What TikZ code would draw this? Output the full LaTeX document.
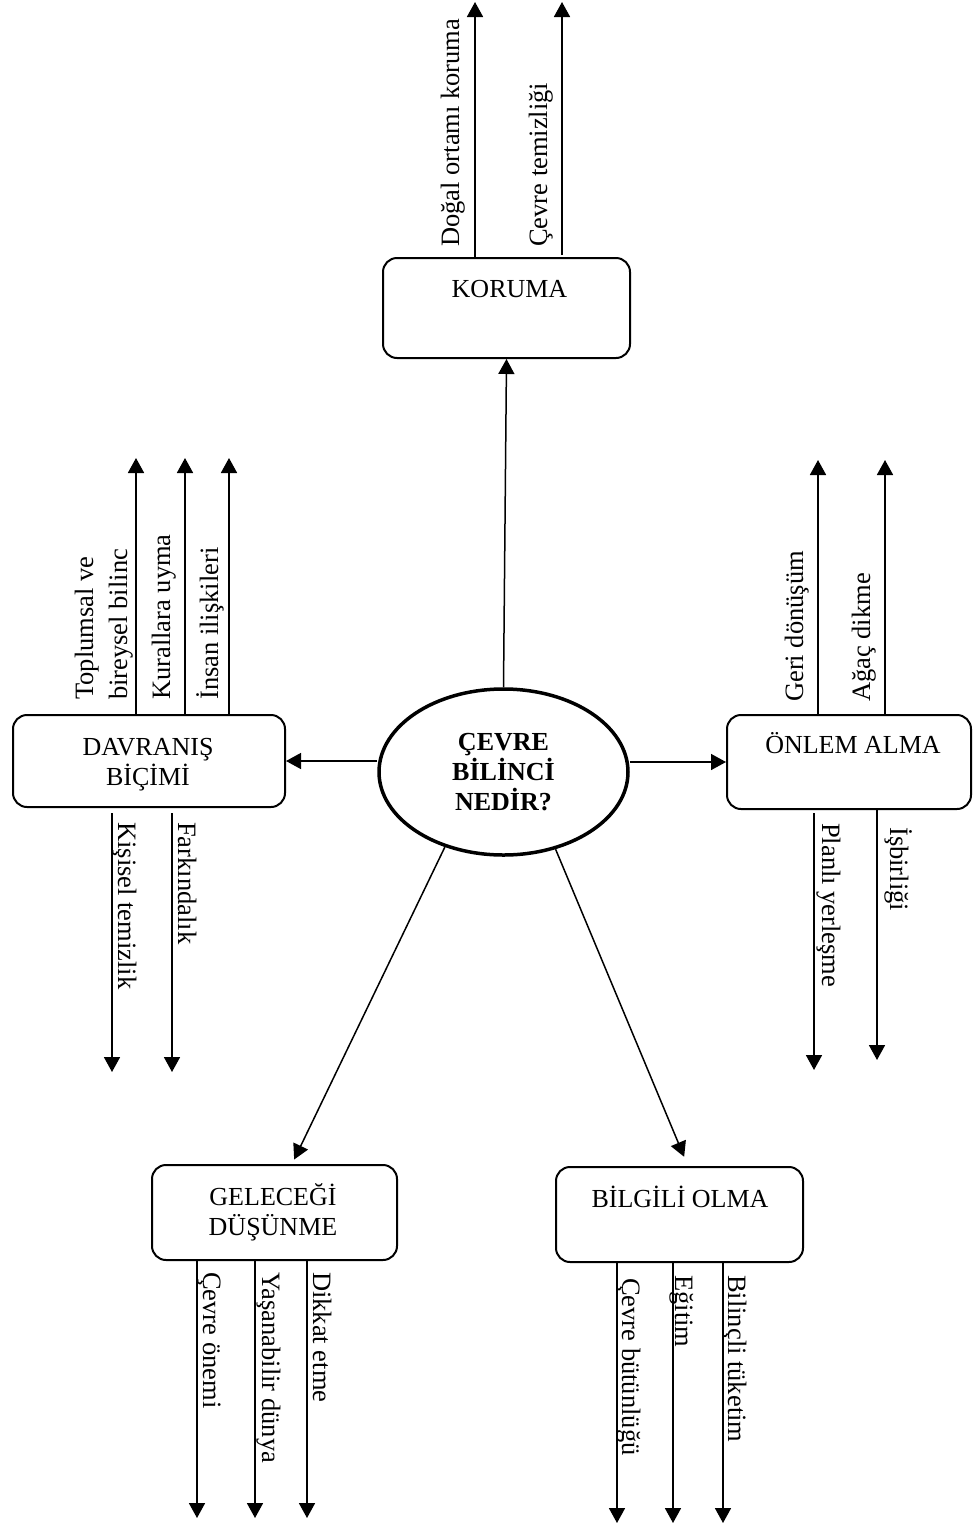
\documentclass[tikz,border=0pt]{standalone}
\usepackage{fontspec}
\setmainfont{Liberation Serif}
\usetikzlibrary{arrows.meta,shapes.geometric}

\begin{document}
\begin{tikzpicture}[x=1pt,y=-1pt,
  box/.style={draw, line width=2pt, rounded corners=14pt, inner sep=0pt},
  hub/.style={draw, ellipse, line width=3.5pt, inner sep=0pt,
    minimum width=249pt, minimum height=166pt, align=center,
    font=\fontsize{26}{30}\selectfont\bfseries},
  bt/.style={inner sep=0pt, anchor=base, font=\fontsize{26}{30}\selectfont},
  lab/.style={inner sep=0pt, font=\fontsize{26.5}{30}\selectfont},
  uplab/.style={lab, rotate=90, anchor=base west},
  dnlab/.style={lab, rotate=-90, anchor=base west},
  tip/.style={-{Triangle[width=16pt,length=15pt]}},
  leg/.style={tip, line width=1.8pt},
  link/.style={tip, line width=1.5pt}]

\useasboundingbox[fill=white] (0,0) rectangle (973,1526);

% central topic
\node[hub] (c) at (503.5,772) {ÇEVRE\\BİLİNCİ\\NEDİR?};

% category boxes
\node[box, minimum width=247pt, minimum height=100pt] (koruma) at (506.5,308) {};
\node[box, minimum width=272pt, minimum height=92pt]  (dav)    at (149,761)   {};
\node[box, minimum width=244pt, minimum height=94pt]  (onlem)  at (849,762)   {};
\node[box, minimum width=245pt, minimum height=95pt]  (gel)    at (274.5,1212.5) {};
\node[box, minimum width=247pt, minimum height=95pt]  (bil)    at (679.5,1214.5) {};

% box captions
\node[bt] (koruma-t) at (509.5,297) {KORUMA};
\node[bt] (dav-t1)   at (148,755)   {DAVRANIŞ};
\node[bt] (dav-t2)   at (148,785)   {BİÇİMİ};
\node[bt] (onlem-t)  at (853,753)   {ÖNLEM ALMA};
\node[bt] (gel-t1)   at (273,1205)  {GELECEĞİ};
\node[bt] (gel-t2)   at (273,1235)  {DÜŞÜNME};
\node[bt] (bil-t)    at (680,1207)  {BİLGİLİ OLMA};

% links from the centre
\draw[link] (c.north) -- (koruma.south);
\draw[link] (c.east |- onlem.west) -- (onlem.west);
\draw[link] (c.west |- dav.east) -- (dav.east);
\draw[link, shorten >=5pt]  (c.232.6) -- ([xshift=17.5pt]gel.north);
\draw[link, shorten >=10pt] (c.304.7) -- ([xshift=8.5pt]bil.north);

% KORUMA
\coordinate (k1) at (475,2);
\coordinate (k2) at (562,2);
\draw[leg] (koruma.north -| k1) -- (k1);
\draw[leg] ([yshift=2pt]koruma.north -| k2) -- (k2);
\node[uplab] (k1-l) at (459,247) {Doğal ortamı koruma};
\node[uplab] (k2-l) at (547,247) {Çevre temizliği};

% DAVRANIŞ BİÇİMİ
\coordinate (d1) at (136,458);
\coordinate (d2) at (185,458);
\coordinate (d3) at (229,458);
\draw[leg] (dav.north -| d1) -- (d1);
\draw[leg] (dav.north -| d2) -- (d2);
\draw[leg] (dav.north -| d3) -- (d3);
\node[uplab] (d1-la) at (93,700)  {Toplumsal ve};
\node[uplab] (d1-lb) at (127,700) {bireysel bilinc};
\node[uplab] (d2-l)  at (170,700) {Kurallara uyma};
\node[uplab] (d3-l)  at (218,700) {İnsan ilişkileri};
\coordinate (d4) at (112,1072);
\coordinate (d5) at (172,1072);
\draw[leg, shorten <=5pt] (dav.south -| d4) -- (d4);
\draw[leg, shorten <=5pt] (dav.south -| d5) -- (d5);
\node[dnlab] (d4-l) at (118,822) {Kişisel temizlik};
\node[dnlab] (d5-l) at (178,822) {Farkındalık};

% ÖNLEM ALMA
\coordinate (o1) at (818,460);
\coordinate (o2) at (885,460);
\draw[leg] (onlem.north -| o1) -- (o1);
\draw[leg] (onlem.north -| o2) -- (o2);
\node[uplab] (o1-l) at (803,702) {Geri dönüşüm};
\node[uplab] (o2-l) at (870,702) {Ağaç dikme};
\coordinate (o3) at (814,1070);
\coordinate (o4) at (877,1060);
\draw[leg, shorten <=3pt] (onlem.south -| o3) -- (o3);
\draw[leg] ([yshift=2pt]onlem.south -| o4) -- (o4);
\node[dnlab] (o3-l) at (822,823) {Planlı yerleşme};
\node[dnlab] (o4-l) at (890,827) {İşbirliği};

% GELECEĞİ DÜŞÜNME
\coordinate (g1) at (197,1518);
\coordinate (g2) at (255,1518);
\coordinate (g3) at (307,1518);
\draw[leg] (gel.south -| g1) -- (g1);
\draw[leg] (gel.south -| g2) -- (g2);
\draw[leg] (gel.south -| g3) -- (g3);
\node[dnlab] (g1-l) at (203,1272) {Çevre önemi};
\node[dnlab] (g2-l) at (262,1272) {Yaşanabilir dünya};
\node[dnlab] (g3-l) at (313,1272) {Dikkat etme};

% BİLGİLİ OLMA
\coordinate (b1) at (617,1523);
\coordinate (b2) at (673,1523);
\coordinate (b3) at (723,1523);
\draw[leg] (bil.south -| b1) -- (b1);
\draw[leg] (bil.south -| b2) -- (b2);
\draw[leg] (bil.south -| b3) -- (b3);
\node[dnlab] (b1-l) at (622,1278) {Çevre bütünlüğü};
\node[dnlab] (b2-l) at (675,1275) {Eğitim};
\node[dnlab] (b3-l) at (728,1275) {Bilinçli tüketim};

\end{tikzpicture}
\end{document}
